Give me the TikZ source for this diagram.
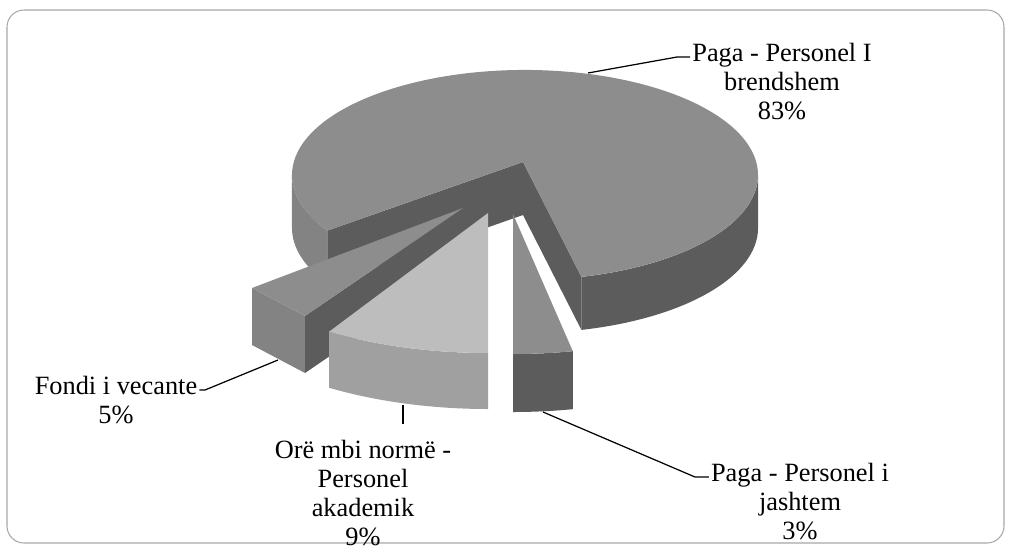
\documentclass[tikz,border=0pt]{standalone}
\usepackage{fontspec}
\setmainfont{Liberation Serif}
\usepackage{xcolor}
\usetikzlibrary{positioning}

\definecolor{topgray}{HTML}{8D8D8D}
\definecolor{darkgray}{HTML}{5C5C5C}
\definecolor{sidegray}{HTML}{838383}
\definecolor{lightgray}{HTML}{BDBDBD}
\definecolor{midgray}{HTML}{A0A0A0}
\definecolor{framegray}{HTML}{A8A8A8}

\begin{document}
\begin{tikzpicture}[x=0.02cm, y=-0.02cm,
    lbl/.style={align=center, inner sep=1pt, font=\fontsize{15}{16.5}\selectfont},
    leader/.style={draw=black, line width=0.7pt},
    frame/.style={draw=framegray, line width=0.6pt, rounded corners=0.34cm}]
    \useasboundingbox (0,0) rectangle (1009,549);
    \draw[frame] (7,10) rectangle (1004,543);

    \coordinate (main-a) at (523,162);
    \coordinate (main-a2) at (523,215);
    \coordinate (main-l) at (327.4,230.6);
    \coordinate (main-r) at (581.4,276.9);
    \coordinate (fondi-a) at (463,208);
    \coordinate (fondi-l) at (252,288);
    \coordinate (fondi-r) at (305,316);
    \coordinate (fondi-l2) at (252,345);
    \coordinate (fondi-r2) at (305,373);
    \coordinate (ore-a) at (488,213);
    \coordinate (ore-b) at (488,353);
    \coordinate (jash-a) at (513,214);
    \coordinate (jash-b) at (513,354);

    \fill[sidegray] (main-l) arc[start angle=148, end angle=180, x radius=233, y radius=105]
        -- ++(0,53) arc[start angle=180, end angle=148, x radius=233, y radius=105] -- cycle;
    \fill[darkgray] (main-r) arc[start angle=76, end angle=0, x radius=233, y radius=105]
        -- ++(0,53) arc[start angle=0, end angle=76, x radius=233, y radius=105] -- cycle;
    \fill[darkgray] (main-a) -- (main-l) -- ++(0,53) -- (main-a2) -- cycle;
    \fill[darkgray] (main-a) -- (main-r) -- ++(0,53) -- (main-a2) -- cycle;
    \fill[topgray] (main-a) -- (main-l) arc[start angle=148, end angle=436, x radius=233, y radius=105] -- cycle;

    \fill[sidegray] (fondi-l) -- (fondi-r) -- (fondi-r2) -- (fondi-l2) -- cycle;
    \fill[darkgray] (fondi-r) -- (fondi-a) -- ++(0,57) -- (fondi-r2) -- cycle;
    \fill[topgray] (fondi-a) -- (fondi-l) -- (fondi-r) -- cycle;

    \fill[midgray] (ore-b) arc[start angle=90, end angle=122, x radius=300, y radius=140]
        -- ++(0,56) arc[start angle=122, end angle=90, x radius=300, y radius=140] -- cycle;
    \fill[lightgray] (ore-a) -- (ore-b) arc[start angle=90, end angle=122, x radius=300, y radius=140] -- cycle;

    \fill[darkgray] (jash-b) arc[start angle=90, end angle=78.5, x radius=300, y radius=140]
        -- ++(0,58) arc[start angle=78.5, end angle=90, x radius=300, y radius=140] -- cycle;
    \fill[topgray] (jash-a) -- (jash-b) arc[start angle=90, end angle=78.5, x radius=300, y radius=140] -- cycle;

    \node[lbl] (main-lbl) at (782,82) {Paga - Personel I\\brendshem\\83\%};
    \node[lbl] (fondi-lbl) at (116,400) {Fondi i vecante\\5\%};
    \node[lbl] (ore-lbl) at (363,493) {Orë mbi normë -\\Personel\\akademik\\9\%};
    \node[lbl] (jash-lbl) at (800,502) {Paga - Personel i\\jashtem\\3\%};

    \coordinate (main-pt) at (588,73);
    \coordinate (main-knee) at (677,57);
    \coordinate (fondi-pt) at (278,360);
    \coordinate (fondi-knee) at (205,390);
    \coordinate (ore-pt) at (403,405);
    \coordinate (ore-end) at (403,424);
    \coordinate (jash-pt) at (543,412);
    \coordinate (jash-knee) at (695,477);

    \draw[leader] (main-pt) -- (main-knee) -- (main-lbl.west |- main-knee);
    \draw[leader] (fondi-pt) -- (fondi-knee) -- (fondi-lbl.east |- fondi-knee);
    \draw[leader] (ore-pt) -- (ore-end);
    \draw[leader] (jash-pt) -- (jash-knee) -- (jash-lbl.west |- jash-knee);
\end{tikzpicture}
\end{document}
